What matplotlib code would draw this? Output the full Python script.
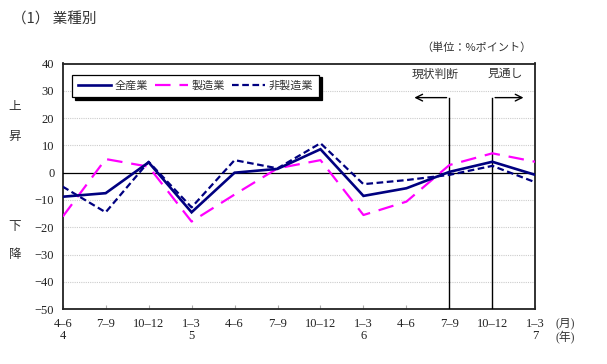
import matplotlib
matplotlib.use("Agg")
import matplotlib.pyplot as plt

plt.rcParams['font.family'] = ['Liberation Serif', 'Noto Sans CJK JP', 'DejaVu Sans']

months = ["4–6", "7–9", "10–12", "1–3", "4–6", "7–9", "10–12", "1–3", "4–6", "7–9", "10–12", "1–3"]
years = ["4", "", "", "5", "", "", "", "6", "", "", "", "7"]
all_ind = [-8.8, -7.5, 3.8, -14.5, 0.0, 1.4, 8.6, -8.5, -5.7, 0.3, 4.0, -0.8]
manuf = [-16.1, 5.0, 2.2, -17.9, -8.0, 1.6, 4.6, -15.5, -10.6, 2.8, 7.1, 4.0]
nonmanuf = [-5.1, -14.5, 4.0, -12.7, 4.6, 1.6, 10.8, -4.2, -2.7, -0.8, 2.5, -3.5]
series_names = ["全産業", "製造業", "非製造業"]

W, H = 607, 364
fig = plt.figure(figsize=(W / 100, H / 100), dpi=100)
ax = fig.add_axes([62.7 / W, 1 - 309.2 / H, (535.3 - 62.7) / W, (309.2 - 63.5) / H])

x = list(range(len(months)))
navy = "#000080"
mag = "#FF00FF"
ax.plot(x, all_ind, color=navy, lw=1.9, solid_joinstyle='miter', zorder=5, label=series_names[0])
ax.plot(x, manuf, color=mag, lw=1.6, dashes=(7, 4), zorder=4, label=series_names[1])
ax.plot(x, nonmanuf, color=navy, lw=1.6, dashes=(3, 1.6), zorder=4, label=series_names[2])

ax.set_xlim(0, 11)
ax.set_ylim(-50, 40)
ax.set_yticks(range(-50, 41, 10))
ax.set_yticklabels([str(v).replace("-", "−") for v in range(-50, 41, 10)], fontsize=9, color="#222222")
for v in range(-40, 40, 10):
    if v == 0:
        ax.axhline(0, color="black", lw=0.9, zorder=3)
    else:
        ax.axhline(v, color="#cccccc", lw=0.8, ls=(0, (1, 1)), zorder=1)

labels = [m + ("\n" + y if y else "") for m, y in zip(months, years)]
ax.set_xticks(x)
ax.set_xticklabels(labels, fontsize=9, color="#222222", linespacing=1.0)
ax.tick_params(axis='x', direction='in', length=3, color="#aaaaaa", pad=6)
ax.tick_params(axis='y', length=0, pad=6)
for s in ax.spines.values():
    s.set_linewidth(1.3)
    s.set_color("#222222")

# vertical markers and arrows
ytop = 27.5
for xv in (9, 10):
    ax.plot([xv, xv], [-50, ytop], color="black", lw=1.0, zorder=3)
ax.annotate("", xy=(8.12, ytop), xytext=(9, ytop),
            arrowprops=dict(arrowstyle="->", color="black", lw=1.0, mutation_scale=12), zorder=3)
ax.annotate("", xy=(10.79, ytop), xytext=(10, ytop),
            arrowprops=dict(arrowstyle="->", color="black", lw=1.0, mutation_scale=12), zorder=3)
ax.text(8.66, 36.2, "現状判断", ha="center", va="center", fontsize=8.5, color="#333333",
        family=['Noto Sans CJK JP'])
ax.text(10.29, 36.2, "見通し", ha="center", va="center", fontsize=8.5, color="#333333",
        family=['Noto Sans CJK JP'])

leg = ax.legend(loc="upper left", bbox_to_anchor=(0.008, 0.977), ncol=3, frameon=True,
                fancybox=False, shadow={'color': 'black', 'alpha': 1.0}, handlelength=3.0,
                handletextpad=0.3, columnspacing=0.6, borderpad=0.55,
                prop={'family': ['Noto Sans CJK JP'], 'size': 8})
leg.get_frame().set_edgecolor("black")
leg.get_frame().set_linewidth(0.9)
for t in leg.get_texts():
    t.set_color("#333333")

fig.text(12 / W, 1 - 20 / H, "（1） 業種別", ha="left", va="center", fontsize=10.5, color="#333333",
         family=['Noto Sans CJK JP'])
fig.text(532 / W, 1 - 48 / H, "（単位：%ポイント）", ha="right", va="center", fontsize=8, color="#333333",
         family=['Noto Sans CJK JP'])
for ch, yy in zip("上昇下降", (106.7, 136.7, 226.7, 254.3)):
    fig.text(15 / W, 1 - yy / H, ch, ha="center", va="center", fontsize=9, color="#333333",
             family=['Noto Sans CJK JP'])
fig.text(565 / W, 1 - 323.5 / H, "(月)", ha="center", va="center", fontsize=8.5, color="#333333")
fig.text(565 / W, 1 - 337.5 / H, "(年)", ha="center", va="center", fontsize=8.5, color="#333333")

fig.savefig("out.png", dpi=100)
